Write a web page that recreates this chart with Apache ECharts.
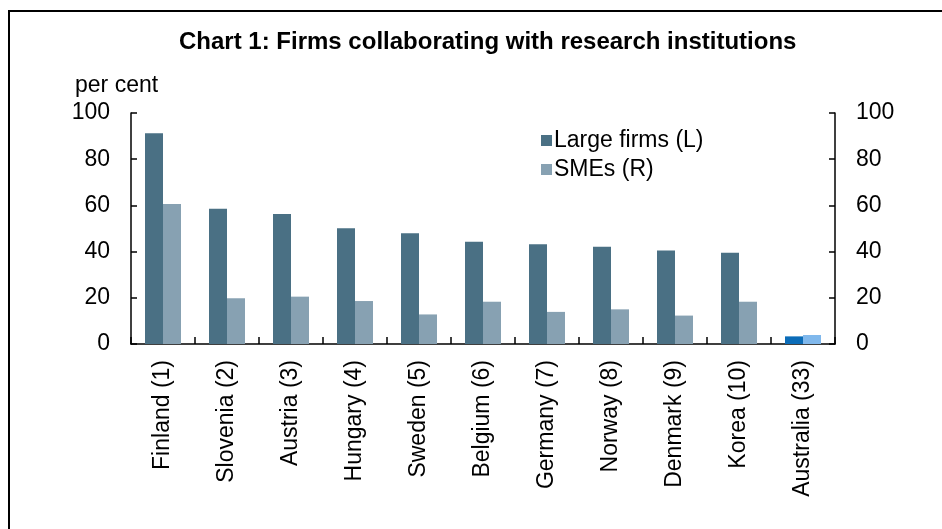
<!DOCTYPE html>
<html>
<head>
<meta charset="utf-8">
<script src="https://cdn.jsdelivr.net/npm/echarts@6/dist/echarts.min.js"></script>
<style>
  html, body { margin: 0; padding: 0; background: #fff; overflow: hidden; }
  #frame {
    position: absolute; left: 8px; top: 10px; width: 1000px; height: 600px;
    border: 2px solid #000; box-sizing: border-box;
  }
  #chart { position: absolute; left: 0; top: 0; width: 942px; height: 529px; }
</style>
</head>
<body>
<div id="frame"></div>
<div id="chart"></div>
<script>
// categories (rank in brackets)
const countries = ['Finland (1)', 'Slovenia (2)', 'Austria (3)', 'Hungary (4)', 'Sweden (5)',
  'Belgium (6)', 'Germany (7)', 'Norway (8)', 'Denmark (9)', 'Korea (10)', 'Australia (33)'];
// per cent of firms
const largeFirms = [91.2, 58.6, 56.3, 50.1, 47.9, 44.3, 43.2, 42.1, 40.5, 39.5, 3.3];
const smes = [60.6, 19.8, 20.5, 18.6, 12.8, 18.3, 13.9, 15.0, 12.3, 18.3, 3.9];
const yTicks = [0, 20, 40, 60, 80, 100];

const largeColor = '#4a7084';
const smeColor = '#87a1b2';
const ausLarge = '#0b6cb8';
const ausSme = '#80b8ec';

const font = 'Arial, "Liberation Sans", sans-serif';
const fs = 23;

function withHighlight(values, color) {
  return values.map((v, i) =>
    countries[i].startsWith('Australia') ? { value: v, itemStyle: { color: color } } : v);
}

const chart = echarts.init(document.getElementById('chart'));

const yAxisBase = {
  type: 'value',
  min: yTicks[0],
  max: yTicks[yTicks.length - 1],
  interval: 20,
  splitLine: { show: false },
  axisLine: { show: true, lineStyle: { color: '#000', width: 1.5 } },
  axisTick: { show: true, inside: true, length: 6, lineStyle: { color: '#000', width: 1.5 } },
  axisLabel: { color: '#000', fontSize: fs, fontFamily: font, margin: 21 }
};

const option = {
  backgroundColor: 'transparent',
  animation: false,
  textStyle: { fontFamily: font },
  title: {
    text: 'Chart 1: Firms collaborating with research institutions',
    left: 174,
    top: 25,
    textStyle: { fontSize: 24, fontWeight: 'bold', color: '#000', fontFamily: font }
  },
  graphic: [{
    type: 'text',
    left: 75,
    top: 74,
    style: { text: 'per cent', fontSize: fs, fontFamily: font, fill: '#000' }
  }],
  legend: {
    orient: 'vertical',
    left: 536,
    top: 124,
    itemWidth: 11,
    itemHeight: 11,
    itemGap: 6,
    icon: 'rect',
    textStyle: { fontSize: fs, color: '#000', fontFamily: font, padding: [0, 0, 0, -3] },
    data: ['Large firms (L)', 'SMEs (R)']
  },
  grid: { left: 131, right: 107, top: 113, bottom: 185, containLabel: false },
  xAxis: {
    type: 'category',
    data: countries,
    axisLine: { lineStyle: { color: '#000', width: 1.5 } },
    axisTick: { show: true, inside: true, length: 7, alignWithLabel: false, lineStyle: { color: '#000', width: 1.5 } },
    axisLabel: { rotate: 90, color: '#000', fontSize: fs, fontFamily: font, margin: 16, interval: 0 }
  },
  yAxis: [
    Object.assign({}, yAxisBase, { position: 'left' }),
    Object.assign({}, yAxisBase, { position: 'right' })
  ],
  series: [
    {
      name: 'Large firms (L)',
      type: 'bar',
      yAxisIndex: 0,
      barWidth: 18,
      barGap: '0%',
      itemStyle: { color: largeColor },
      data: withHighlight(largeFirms, ausLarge)
    },
    {
      name: 'SMEs (R)',
      type: 'bar',
      yAxisIndex: 1,
      barWidth: 18,
      barGap: '0%',
      itemStyle: { color: smeColor },
      data: withHighlight(smes, ausSme)
    }
  ]
};

chart.setOption(option);
</script>
</body>
</html>
